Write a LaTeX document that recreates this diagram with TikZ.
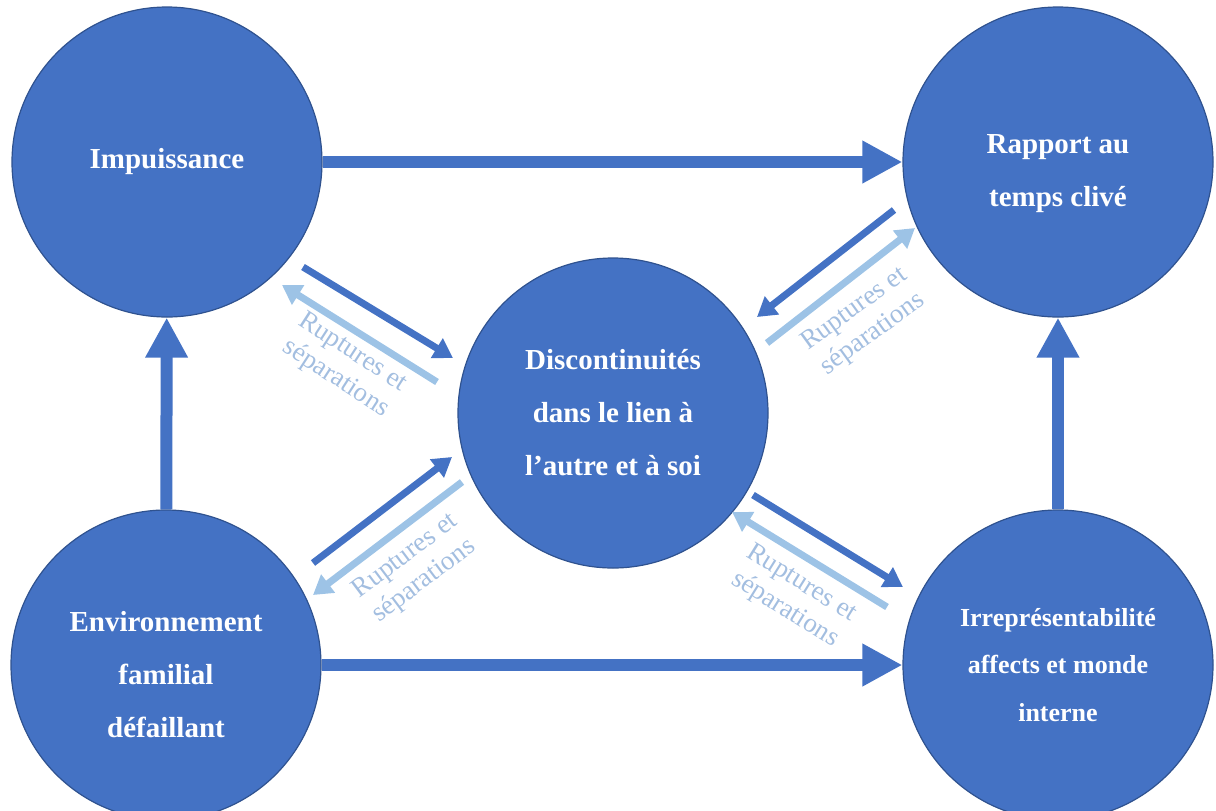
\documentclass[tikz,border=0pt]{standalone}
\usepackage{fontspec}
\setmainfont{Liberation Serif}
\usepackage{xcolor}
\usetikzlibrary{arrows.meta}
\definecolor{nodeblue}{HTML}{4472C4}
\definecolor{rimblue}{HTML}{2F528F}
\definecolor{paleblue}{HTML}{9DC3E6}
\definecolor{labelblue}{HTML}{A3BEE0}

\begin{document}
\begin{tikzpicture}[x=0.5pt, y=-0.5pt,
  bubble/.style={circle, draw=rimblue, line width=0.6pt, fill=nodeblue,
    minimum size=155pt, inner sep=0pt, align=center, text=white,
    font=\bfseries\fontsize{14.5}{26.5}\selectfont},
  bubbletext/.style={text=white, align=center, font=\bfseries\fontsize{14.5}{26.5}\selectfont},
  bigarrow/.style={draw=nodeblue, line width=6pt, -{Triangle[length=20pt, width=20pt]}},
  darkarrow/.style={draw=nodeblue, line width=3.5pt, -{Triangle[length=9.5pt, width=11pt]}},
  palearrow/.style={draw=paleblue, line width=3.5pt, -{Triangle[length=9.5pt, width=11pt]}},
  rupture/.style={text=labelblue, align=center, font=\fontsize{13.5}{15.5}\selectfont},
]
\useasboundingbox (0,0) rectangle (1216,810);
\node[bubble] (imp) at (167,162) {Impuissance};
\node[bubble, label={[bubbletext, yshift=-6pt]center:Rapport au\\temps clivé}] (rap) at (1058,162) {};
\node[bubble] (disc) at (613,413) {Discontinuités\\dans le lien à\\l’autre et à soi};
\node[bubble, label={[bubbletext, yshift=-5pt]center:Environnement\\familial\\défaillant}] (env) at (166,665) {};
\node[bubble, font=\bfseries\fontsize{13}{23.8}\selectfont] (irr) at (1058,665)
  {Irreprésentabilité\\affects et monde\\interne};
\draw[bigarrow] (imp) -- (rap);
\draw[bigarrow] (env) -- (imp);
\draw[bigarrow] (env) -- (irr);
\draw[bigarrow] (irr) -- (rap);
% short arrows round the centre
\coordinate (ul-d1) at (303,267); \coordinate (ul-d2) at (453,358);
\coordinate (ul-p1) at (437,382); \coordinate (ul-p2) at (282,285);
\coordinate (ur-d1) at (894,210); \coordinate (ur-d2) at (757,317);
\coordinate (ur-p1) at (767,343); \coordinate (ur-p2) at (915,228);
\coordinate (ll-d1) at (313,563); \coordinate (ll-d2) at (452,457);
\coordinate (ll-p1) at (462,482); \coordinate (ll-p2) at (313,595);
\coordinate (lr-d1) at (753,495); \coordinate (lr-d2) at (903,587);
\coordinate (lr-p1) at (887,607); \coordinate (lr-p2) at (732,512);
\draw[darkarrow] (ul-d1) -- (ul-d2);
\draw[palearrow] (ul-p1) -- (ul-p2);
\draw[darkarrow] (ur-d1) -- (ur-d2);
\draw[palearrow] (ur-p1) -- (ur-p2);
\draw[darkarrow] (ll-d1) -- (ll-d2);
\draw[palearrow] (ll-p1) -- (ll-p2);
\draw[darkarrow] (lr-d1) -- (lr-d2);
\draw[palearrow] (lr-p1) -- (lr-p2);
\node[rupture, rotate=-33] (ul-lab) at (344,366) {Ruptures et\\séparations};
\node[rupture, rotate=36] (ur-lab) at (864,322) {Ruptures et\\séparations};
\node[rupture, rotate=37] (ll-lab) at (415,569) {Ruptures et\\séparations};
\node[rupture, rotate=-32] (lr-lab) at (793,597) {Ruptures et\\séparations};
\end{tikzpicture}
\end{document}
